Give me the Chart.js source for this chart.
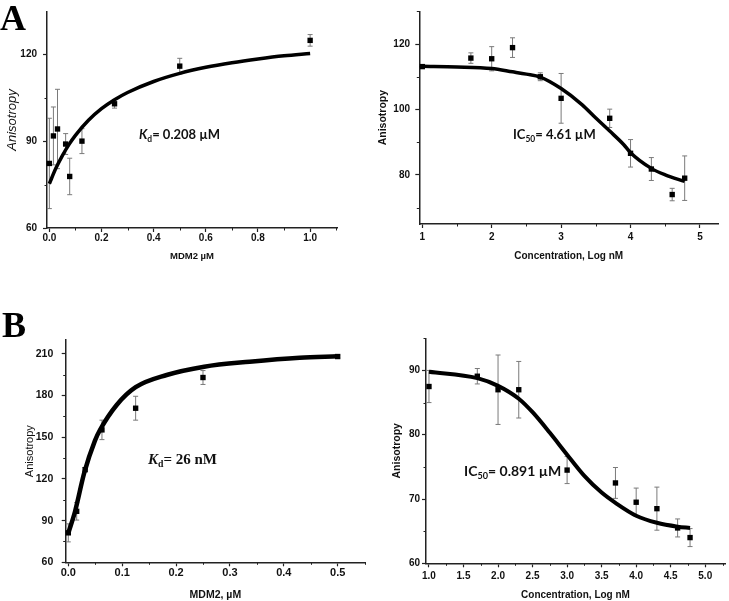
<!DOCTYPE html>
<html>
<head>
<meta charset="utf-8">
<script src="https://cdn.jsdelivr.net/npm/chart.js@4.4.1/dist/chart.umd.min.js"></script>
<style>
  html, body { margin: 0; padding: 0; background: #fff; }
  #wrap { position: relative; width: 729px; height: 601px; overflow: hidden; }
  canvas { position: absolute; }
  .panel-label { position: absolute; font-family: "Liberation Serif", "Times New Roman", serif; font-weight: bold; font-size: 36px; line-height: 1; color: #000; }
  .note { position: absolute; font-weight: bold; white-space: nowrap; line-height: 1; color: #111; }
  .note.sans { font-family: Lato, "Open Sans", sans-serif; }
  .note.serif { font-family: "Liberation Serif", "Times New Roman", serif; font-size: 15px; }
  .note sub { font-size: 65%; vertical-align: baseline; position: relative; top: 0.3em; }
</style>
</head>
<body>
<div id="wrap">
  <canvas id="cAL" width="345" height="272" style="left:0;top:0"></canvas>
  <canvas id="cAR" width="359" height="272" style="left:370px;top:0"></canvas>
  <canvas id="cBL" width="370" height="301" style="left:0;top:300px"></canvas>
  <canvas id="cBR" width="359" height="301" style="left:370px;top:300px"></canvas>

  <div class="panel-label" style="left:0;top:0">A</div>
  <div class="panel-label" style="left:2px;top:307px">B</div>

  <div class="note sans" style="left:139px;top:128px;font-size:13px"><i>K</i><sub>d</sub>= 0.208 µM</div>
  <div class="note sans" style="left:513px;top:128px;font-size:13px">IC<sub>50</sub>= 4.61 µM</div>
  <div class="note serif" style="left:148px;top:452px"><i>K</i><sub>d</sub>= 26 nM</div>
  <div class="note sans" style="left:464px;top:464px;font-size:14px">IC<sub>50</sub>= 0.891 µM</div>
</div>

<script>
// A, left: MDM2 titration
const aKdX = [0, 0.0156, 0.0313, 0.0625, 0.078, 0.125, 0.25, 0.5, 1.0];
const aKdY = [82.3, 91.8, 94.2, 89.0, 77.8, 90.0, 102.9, 115.9, 124.8];
const aKdErr = [15.6, 10.0, 13.7, 3.6, 6.3, 4.3, 1.5, 2.7, 2.0];
const aKdFitX = [0, 0.025, 0.05, 0.075, 0.1, 0.15, 0.2, 0.25, 0.3, 0.4, 0.5, 0.6, 0.7, 0.8, 0.9, 1.0];
const aKdFitY = [75.3, 80.6, 85.0, 88.8, 92.0, 97.2, 101.2, 104.3, 106.8, 110.6, 113.4, 115.5, 117.1, 118.4, 119.5, 120.3];
const aKdXTicks = [0, 0.2, 0.4, 0.6, 0.8, 1.0];
const aKdXMinor = [0.1, 0.3, 0.5, 0.7, 0.9, 1.1];
const aKdYTicks = [60, 90, 120];
const aKdYMinor = [75, 105];

// A, right: competition
const aIcX = [1.0, 1.7, 2.0, 2.3, 2.7, 3.0, 3.7, 4.0, 4.3, 4.6, 4.78];
const aIcY = [113.1, 115.7, 115.5, 118.9, 110.0, 103.4, 97.3, 86.6, 81.8, 74.0, 79.0];
const aIcErr = [0.5, 1.6, 3.7, 3.0, 1.2, 7.6, 2.8, 4.2, 3.5, 1.9, 6.8];
const aIcFitX = [1.0, 1.5, 2.0, 2.3, 2.5, 2.7, 3.0, 3.3, 3.5, 3.7, 3.9, 4.0, 4.3, 4.5, 4.78];
const aIcFitY = [113.2, 113.0, 112.5, 111.5, 110.8, 109.9, 106.4, 101.5, 97.4, 93.4, 89.3, 86.8, 82.0, 80.0, 78.0];
const aIcXTicks = [1, 2, 3, 4, 5];
const aIcXMinor = [1.5, 2.5, 3.5, 4.5];
const aIcYTicks = [80, 100, 120];
const aIcYMinor = [70, 90, 110, 130];

// B, left: MDM2 titration
const bKdX = [0, 0.0156, 0.0313, 0.0625, 0.125, 0.25, 0.5];
const bKdY = [81.2, 96.7, 126.7, 155.3, 170.9, 193.0, 208.1];
const bKdErr = [6.5, 6.3, 1.5, 7.0, 8.6, 5.0, 1.0];
const bKdFitX = [0, 0.0124, 0.0297, 0.0495, 0.0588, 0.0898, 0.125, 0.1826, 0.2523, 0.3365, 0.4294, 0.5];
const bKdFitY = [80.9, 96.4, 124.5, 147.6, 155.2, 173.2, 186.0, 194.8, 200.8, 204.4, 207.3, 208.3];
const bKdXTicks = [0, 0.1, 0.2, 0.3, 0.4, 0.5];
const bKdXMinor = [0.05, 0.15, 0.25, 0.35, 0.45, 0.55];
const bKdYTicks = [60, 90, 120, 150, 180, 210];
const bKdYMinor = [75, 105, 135, 165, 195];

// B, right: competition
const bIcX = [1.0, 1.7, 2.0, 2.3, 3.0, 3.7, 4.0, 4.3, 4.6, 4.78];
const bIcY = [87.5, 89.1, 87.0, 87.0, 74.5, 72.5, 69.5, 68.5, 65.5, 64.0];
const bIcErr = [2.5, 1.2, 5.4, 4.4, 2.1, 2.4, 2.2, 3.35, 1.4, 1.4];
const bIcFitX = [1.0, 1.7, 2.0, 2.3, 2.5, 2.75, 3.0, 3.25, 3.5, 3.7, 4.0, 4.3, 4.6, 4.78];
const bIcFitY = [89.8, 88.8, 87.6, 85.6, 83.5, 80.3, 76.9, 73.6, 71.0, 69.4, 67.4, 66.3, 65.7, 65.5];
const bIcXTicks = [1.0, 1.5, 2.0, 2.5, 3.0, 3.5, 4.0, 4.5, 5.0];
const bIcXMinor = [1.25, 1.75, 2.25, 2.75, 3.25, 3.75, 4.25, 4.75, 5.25];
const bIcYTicks = [60, 70, 80, 90];
const bIcYMinor = [65, 75, 85, 95];

Chart.defaults.font.family = "'Liberation Sans', Arial, sans-serif";
Chart.defaults.color = "#111";

const errorBars = {
  id: "errorBars",
  beforeDatasetsDraw(chart, args, opts) {
    const pts = chart.data.datasets[0].data;
    const { ctx, scales: { x, y } } = chart;
    ctx.save();
    ctx.strokeStyle = "#7a7a7a";
    ctx.lineWidth = 1;
    ctx.beginPath();
    pts.forEach((p, i) => {
      const px = x.getPixelForValue(p.x);
      const top = y.getPixelForValue(p.y + opts.errors[i]);
      const bot = y.getPixelForValue(p.y - opts.errors[i]);
      ctx.moveTo(px, top);
      ctx.lineTo(px, bot);
      ctx.moveTo(px - 2.5, top);
      ctx.lineTo(px + 2.5, top);
      ctx.moveTo(px - 2.5, bot);
      ctx.lineTo(px + 2.5, bot);
    });
    ctx.stroke();
    ctx.restore();
  },
};

const minorTicks = {
  id: "minorTicks",
  afterDraw(chart, args, opts) {
    const { ctx, scales: { x, y } } = chart;
    ctx.save();
    ctx.strokeStyle = "#222";
    ctx.lineWidth = 1;
    ctx.beginPath();
    opts.x.forEach((v) => {
      if (v > x.max) return;
      const px = Math.round(x.getPixelForValue(v)) + 0.5;
      ctx.moveTo(px, x.top);
      ctx.lineTo(px, x.top + 2.5);
    });
    opts.y.forEach((v) => {
      if (v > y.max) return;
      const py = Math.round(y.getPixelForValue(v)) + 0.5;
      ctx.moveTo(y.right, py);
      ctx.lineTo(y.right - 2.5, py);
    });
    ctx.stroke();
    ctx.restore();
  },
};

function pairs(xs, ys) {
  return xs.map((x, i) => ({ x: x, y: ys[i] }));
}

function makeChart(id, cfg) {
  return new Chart(document.getElementById(id), {
    type: "scatter",
    data: {
      datasets: [
        {
          data: pairs(cfg.x, cfg.y),
          pointStyle: "rect",
          pointRadius: 3.8,
          backgroundColor: "#000",
          borderWidth: 0,
          clip: false,
        },
        {
          data: pairs(cfg.fitX, cfg.fitY),
          showLine: true,
          borderColor: "#000",
          borderWidth: cfg.lineWidth,
          pointRadius: 0,
          cubicInterpolationMode: "monotone",
          clip: false,
        },
      ],
    },
    options: {
      responsive: false,
      animation: false,
      devicePixelRatio: 1,
      layout: { padding: cfg.pad },
      plugins: {
        legend: { display: false },
        tooltip: { enabled: false },
        errorBars: { errors: cfg.err },
        minorTicks: { x: cfg.xMinor, y: cfg.yMinor },
      },
      scales: {
        x: {
          type: "linear",
          min: cfg.xMin,
          max: cfg.xMax,
          afterBuildTicks: (s) => { s.ticks = cfg.xTicks.map((v) => ({ value: v })); },
          afterFit: (s) => { s.height = cfg.xH; },
          grid: { drawOnChartArea: false, tickLength: 4, tickColor: "#222", tickWidth: 1.2 },
          border: { color: "#222", width: 1.5 },
          ticks: {
            padding: cfg.xTickPad,
            color: "#111",
            autoSkip: false,
            maxRotation: 0,
            font: { size: cfg.tickSize, weight: "bold" },
            callback: (v) => cfg.xFmt(v),
          },
          title: {
            display: true,
            text: cfg.xTitle,
            color: "#111",
            font: cfg.xTitleFont,
            padding: { top: 0, bottom: cfg.xTitlePad },
          },
        },
        y: {
          type: "linear",
          min: cfg.yMin,
          max: cfg.yMax,
          afterBuildTicks: (s) => { s.ticks = cfg.yTicks.map((v) => ({ value: v })); },
          afterFit: (s) => { s.width = cfg.yW; },
          grid: { drawOnChartArea: false, tickLength: 4, tickColor: "#222", tickWidth: 1.2 },
          border: { color: "#222", width: 1.5 },
          ticks: {
            padding: cfg.yTickPad,
            color: "#111",
            autoSkip: false,
            font: { size: cfg.yTickSize || cfg.tickSize, weight: "bold" },
            callback: (v) => String(v),
          },
          title: {
            display: true,
            text: "Anisotropy",
            color: "#111",
            font: cfg.yTitleFont,
            padding: { top: cfg.yTitlePad, bottom: 0 },
          },
        },
      },
    },
    plugins: [errorBars, minorTicks],
  });
}

makeChart("cAL", {
  x: aKdX, y: aKdY, err: aKdErr, fitX: aKdFitX, fitY: aKdFitY,
  xTicks: aKdXTicks, xMinor: aKdXMinor, yTicks: aKdYTicks, yMinor: aKdYMinor,
  xMin: -0.009, xMax: 1.103, yMin: 60, yMax: 134.6,
  pad: { top: 10, right: 8, left: 0, bottom: 0 },
  xH: 44, yW: 47, tickSize: 10, xTickPad: 0, yTickPad: 6,
  xFmt: (v) => v.toFixed(1),
  xTitle: "MDM2 µM", xTitleFont: { size: 9.5, weight: "bold" }, xTitlePad: 9.6,
  yTitleFont: { size: 13, style: "italic" }, yTitlePad: 4.9,
  lineWidth: 3.5,
});

makeChart("cAR", {
  x: aIcX, y: aIcY, err: aIcErr, fitX: aIcFitX, fitY: aIcFitY,
  xTicks: aIcXTicks, xMinor: aIcXMinor, yTicks: aIcYTicks, yMinor: aIcYMinor,
  xMin: 0.957, xMax: 5.26, yMin: 65, yMax: 130,
  pad: { top: 1.5, right: 11, left: 0, bottom: 0 },
  xH: 48, yW: 49.3, tickSize: 10, xTickPad: 3.3, yTickPad: 5.3,
  xFmt: (v) => String(v),
  xTitle: "Concentration, Log nM", xTitleFont: { size: 10, weight: "bold" }, xTitlePad: 10,
  yTitleFont: { size: 10.5, weight: "bold" }, yTitlePad: 6.7,
  lineWidth: 3.5,
});

makeChart("cBL", {
  x: bKdX, y: bKdY, err: bKdErr, fitX: bKdFitX, fitY: bKdFitY,
  xTicks: bKdXTicks, xMinor: bKdXMinor, yTicks: bKdYTicks, yMinor: bKdYMinor,
  xMin: -0.0048, xMax: 0.5507, yMin: 60, yMax: 220,
  pad: { top: 40, right: 5, left: 0, bottom: 0 },
  xH: 38.7, yW: 65.7, tickSize: 11, yTickSize: 10.5, xTickPad: 0, yTickPad: 8.4,
  xFmt: (v) => v.toFixed(1),
  xTitle: "MDM2, µM", xTitleFont: { size: 10.5, weight: "bold" }, xTitlePad: 0,
  yTitleFont: { size: 11 }, yTitlePad: 23.5,
  lineWidth: 4.5,
});

makeChart("cBR", {
  x: bIcX, y: bIcY, err: bIcErr, fitX: bIcFitX, fitY: bIcFitY,
  xTicks: bIcXTicks, xMinor: bIcXMinor, yTicks: bIcYTicks, yMinor: bIcYMinor,
  xMin: 0.957, xMax: 5.286, yMin: 60, yMax: 95,
  pad: { top: 38.3, right: 0, left: 0, bottom: 0 },
  xH: 37.7, yW: 56, tickSize: 10, xTickPad: 2.7, yTickPad: 2,
  xFmt: (v) => v.toFixed(1),
  xTitle: "Concentration, Log nM", xTitleFont: { size: 10, weight: "bold" }, xTitlePad: 0,
  yTitleFont: { size: 10.5, weight: "bold" }, yTitlePad: 20.4,
  lineWidth: 4,
});
</script>
</body>
</html>
